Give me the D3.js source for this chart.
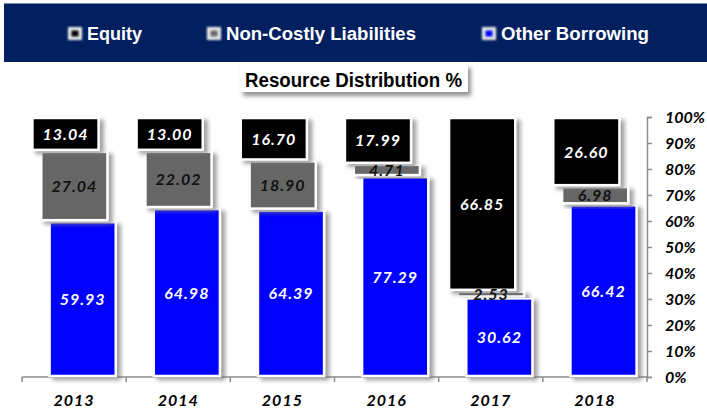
<!DOCTYPE html>
<html><head><meta charset="utf-8">
<script src="https://cdn.jsdelivr.net/npm/d3@7"></script>
<style>
html,body{margin:0;padding:0;background:#fff;}
svg{display:block;}
</style></head>
<body>
<svg id="chart" width="707" height="413"></svg>
<script>
const years = ["2013","2014","2015","2016","2017","2018"];
const otherBorrowing = [59.93, 64.98, 64.39, 77.29, 30.62, 66.42];
const nonCostly = [27.04, 22.02, 18.90, 4.71, 2.53, 6.98];
const equity = [13.04, 13.00, 16.70, 17.99, 66.85, 26.60];
const seriesNames = ["Equity", "Non-Costly Liabilities", "Other Borrowing"];
const yTicks = [0,10,20,30,40,50,60,70,80,90,100];
const chartTitle = "Resource Distribution %";

const svg = d3.select("#chart");
const defs = svg.append("defs");
const sh = defs.append("filter").attr("id","shadow").attr("x","-20%").attr("y","-20%").attr("width","150%").attr("height","150%");
sh.append("feDropShadow").attr("dx",4).attr("dy",3).attr("stdDeviation",2).attr("flood-color","#777").attr("flood-opacity",0.7);
const sh2 = defs.append("filter").attr("id","shadow2").attr("x","-10%").attr("y","-20%").attr("width","120%").attr("height","160%");
sh2.append("feDropShadow").attr("dx",3).attr("dy",4).attr("stdDeviation",2).attr("flood-color","#666").attr("flood-opacity",0.7);
const blur = defs.append("filter").attr("id","lgblur");
blur.append("feGaussianBlur").attr("stdDeviation",0.8);

// Banner + legend
svg.append("rect").attr("x",4).attr("y",3).attr("width",703).attr("height",59).attr("fill","#022060");
svg.append("line").attr("x1",4).attr("x2",707).attr("y1",3.5).attr("y2",3.5).attr("stroke","#7a8aa8").attr("stroke-width",1);
const legendColors = ["#000000","#666666","#0000ff"];
const legendX = [68, 207, 482];
const legendTextLen = [55, 190, 148];
seriesNames.forEach((n,i)=>{
  const g = svg.append("g").attr("transform",`translate(${legendX[i]},27)`);
  g.append("rect").attr("x",0).attr("y",0).attr("width",14).attr("height",13).attr("fill","#e8e8e8").attr("filter","url(#lgblur)");
  g.append("rect").attr("x",3.5).attr("y",3.5).attr("width",7).attr("height",6).attr("fill",legendColors[i]).attr("filter","url(#lgblur)");
  g.append("text").attr("x",19).attr("y",13).attr("fill","#fff")
    .attr("font-family","'Liberation Sans', Arial, sans-serif").attr("font-weight","bold").attr("font-size",18)
    .attr("textLength",legendTextLen[i]).attr("lengthAdjust","spacingAndGlyphs").text(n);
});

// Title box
svg.append("rect").attr("x",240).attr("y",64).attr("width",228).attr("height",28).attr("fill","#fff").attr("filter","url(#shadow2)");
svg.append("text").attr("x",245).attr("y",87).attr("fill","#000")
  .attr("font-family","'Liberation Sans', Arial, sans-serif").attr("font-weight","bold").attr("font-size",20)
  .attr("textLength",217).attr("lengthAdjust","spacingAndGlyphs").text(chartTitle);

// Scales
const x = d3.scaleBand().domain(years).range([22,647]).padding(0);
const y = d3.scaleLinear().domain([0,100]).range([377,117]);
const bw = x.bandwidth();

const data = years.map((yr,i)=>({year:yr, other:otherBorrowing[i], nc:nonCostly[i], eq:equity[i]}));
const stack = d3.stack().keys(["other","nc","eq"])(data);
const segColors = {other:"#0000ff", nc:"#666666", eq:"#000000"};
const segOffset = {other:0.265, nc:0.185, eq:0.10};
const labelColor = {other:"#ffffff", nc:"#111111", eq:"#ffffff"};
const segW = bw*0.635;

// Axes
const axisColor = "#8c8c8c";
const gx = svg.append("g").attr("transform","translate(0,377)");
gx.append("line").attr("x1",22).attr("x2",647).attr("y1",0).attr("y2",0).attr("stroke",axisColor).attr("stroke-width",1.5);
gx.selectAll("line.bt").data(years.concat(["end"])).join("line")
  .attr("class","bt")
  .attr("x1",d=>d==="end"?647:x(d)).attr("x2",d=>d==="end"?647:x(d))
  .attr("y1",0).attr("y2",5).attr("stroke",axisColor).attr("stroke-width",1.5);
gx.selectAll("text").data(years).join("text")
  .attr("x",d=>x(d)+bw/2).attr("y",29).attr("text-anchor","middle")
  .attr("font-family","Lato, 'Open Sans', sans-serif").attr("font-weight","bold").attr("font-style","italic")
  .attr("font-size",16).attr("letter-spacing",1).attr("fill","#000").text(d=>d);

// Bars
stack.forEach(layer=>{
  const k = layer.key;
  const g = svg.append("g");
  g.selectAll("rect").data(layer).join("rect")
    .attr("x",(d)=>x(d.data.year)+bw*segOffset[k])
    .attr("y",d=>y(d[1])+1)
    .attr("width",segW)
    .attr("height",d=>Math.max(0,y(d[0])-y(d[1])-2))
    .attr("fill",segColors[k]).attr("stroke","#fff").attr("stroke-width",2.5)
    .attr("filter","url(#shadow)");
});
stack.forEach(layer=>{
  const k = layer.key;
  svg.append("g").selectAll("text").data(layer).join("text")
    .attr("x",d=>x(d.data.year)+bw*segOffset[k]+segW/2)
    .attr("y",d=>(y(d[0])+y(d[1]))/2+6)
    .attr("text-anchor","middle")
    .attr("font-family","Lato, 'Open Sans', sans-serif").attr("font-weight","bold").attr("font-style","italic")
    .attr("font-size",16).attr("letter-spacing",1).attr("fill",labelColor[k])
    .text(d=>(d[1]-d[0]).toFixed(2));
});

// Right axis
const gy = svg.append("g").attr("transform","translate(647,0)")
  .call(d3.axisRight(y).tickValues(yTicks).tickSize(5).tickPadding(13).tickFormat(d=>d+"%"));
gy.select(".domain").attr("stroke",axisColor).attr("stroke-width",1.5);
gy.selectAll(".tick line").attr("stroke",axisColor).attr("stroke-width",1.5);
gy.selectAll(".tick text").attr("font-family","Lato, 'Open Sans', sans-serif").attr("font-weight","bold")
  .attr("font-style","italic").attr("font-size",16).attr("fill","#000");
</script>
</body></html>
